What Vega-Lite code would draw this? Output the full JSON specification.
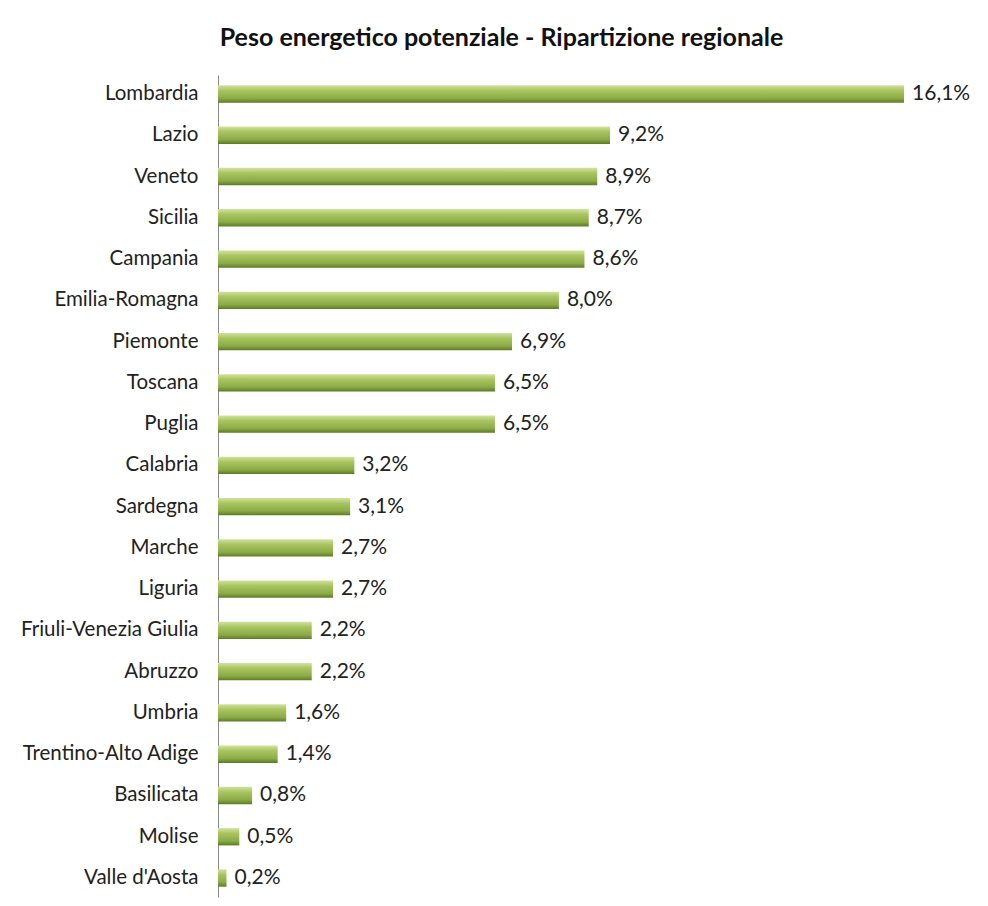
{
  "$schema": "https://vega.github.io/schema/vega-lite/v6.json",
  "width": 767,
  "height": 822,
  "padding": {"left": 18, "top": 26, "right": 3, "bottom": 8},
  "background": "white",
  "config": {
    "view": {"stroke": null},
    "locale": {"number": {"decimal": ",", "thousands": ".", "grouping": [3], "currency": ["", " €"]}}
  },
  "title": {
    "text": "Peso energetico potenziale - Ripartizione regionale",
    "font": "Lato",
    "fontSize": 25,
    "fontWeight": "bold",
    "color": "#111111",
    "anchor": "middle",
    "frame": "bounds",
    "offset": 24
  },
  "data": {
    "values": [
      {"regione": "Lombardia", "peso": 0.161},
      {"regione": "Lazio", "peso": 0.092},
      {"regione": "Veneto", "peso": 0.089},
      {"regione": "Sicilia", "peso": 0.087},
      {"regione": "Campania", "peso": 0.086},
      {"regione": "Emilia-Romagna", "peso": 0.080},
      {"regione": "Piemonte", "peso": 0.069},
      {"regione": "Toscana", "peso": 0.065},
      {"regione": "Puglia", "peso": 0.065},
      {"regione": "Calabria", "peso": 0.032},
      {"regione": "Sardegna", "peso": 0.031},
      {"regione": "Marche", "peso": 0.027},
      {"regione": "Liguria", "peso": 0.027},
      {"regione": "Friuli-Venezia Giulia", "peso": 0.022},
      {"regione": "Abruzzo", "peso": 0.022},
      {"regione": "Umbria", "peso": 0.016},
      {"regione": "Trentino-Alto Adige", "peso": 0.014},
      {"regione": "Basilicata", "peso": 0.008},
      {"regione": "Molise", "peso": 0.005},
      {"regione": "Valle d'Aosta", "peso": 0.002}
    ]
  },
  "encoding": {
    "y": {
      "field": "regione",
      "type": "nominal",
      "sort": null,
      "scale": {"paddingInner": 0.58, "paddingOuter": 0.25},
      "axis": {
        "title": null,
        "ticks": false,
        "domainColor": "#8a8a8a",
        "domainWidth": 1,
        "labelFont": "Lato",
        "labelFontSize": 20.5,
        "labelColor": "#222222",
        "labelPadding": 20,
        "minExtent": 200,
        "maxExtent": 200
      }
    },
    "x": {
      "field": "peso",
      "type": "quantitative",
      "scale": {"domain": [0, 0.18], "nice": false},
      "axis": null
    }
  },
  "layer": [
    {
      "mark": {
        "type": "bar",
        "color": {
          "gradient": "linear",
          "x1": 0, "y1": 0, "x2": 0, "y2": 1,
          "stops": [
            {"offset": 0, "color": "#d2e39c"},
            {"offset": 0.3, "color": "#a9c562"},
            {"offset": 0.75, "color": "#8aab45"},
            {"offset": 1, "color": "#5d7a26"}
          ]
        }
      }
    },
    {
      "mark": {
        "type": "text",
        "align": "left",
        "baseline": "middle",
        "dx": 8,
        "font": "Lato",
        "fontSize": 21,
        "color": "#222222"
      },
      "encoding": {
        "text": {"field": "peso", "type": "quantitative", "format": ".1%"}
      }
    }
  ]
}
